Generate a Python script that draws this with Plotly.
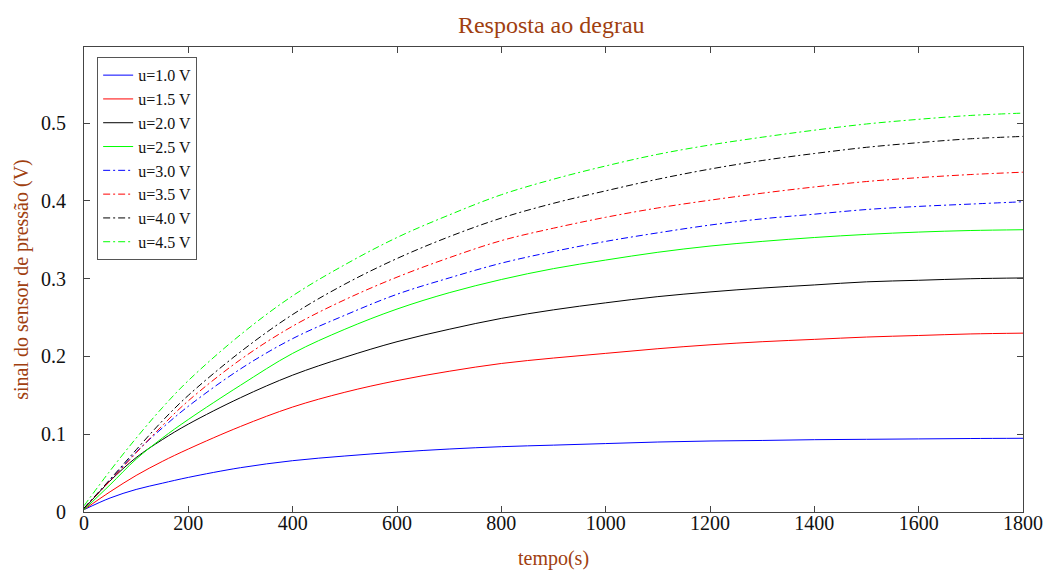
import plotly.graph_objects as go

t = [0, 50, 100, 150, 200, 300, 400, 500, 600, 700, 800, 900, 1000, 1100, 1200, 1300, 1400, 1500, 1600, 1700, 1800]

u10 = [0.003, 0.018, 0.029, 0.037, 0.0445, 0.057, 0.066, 0.072, 0.077, 0.081, 0.084, 0.086, 0.088, 0.090, 0.0913, 0.092, 0.093, 0.0935, 0.094, 0.0945, 0.0948]
u15 = [0.003, 0.026, 0.047, 0.065, 0.081, 0.110, 0.135, 0.154, 0.169, 0.181, 0.191, 0.198, 0.204, 0.210, 0.215, 0.219, 0.222, 0.225, 0.227, 0.229, 0.230]
u20 = [0.004, 0.040, 0.070, 0.093, 0.113, 0.147, 0.176, 0.199, 0.219, 0.235, 0.249, 0.260, 0.269, 0.277, 0.283, 0.288, 0.292, 0.296, 0.298, 0.300, 0.301]
u25 = [0.003, 0.035, 0.068, 0.095, 0.119, 0.163, 0.204, 0.235, 0.261, 0.282, 0.299, 0.313, 0.324, 0.334, 0.342, 0.348, 0.353, 0.357, 0.360, 0.362, 0.363]
u30 = [0.005, 0.041, 0.077, 0.108, 0.136, 0.184, 0.223, 0.253, 0.280, 0.301, 0.320, 0.335, 0.348, 0.359, 0.369, 0.377, 0.383, 0.389, 0.393, 0.396, 0.399]
u35 = [0.005, 0.040, 0.076, 0.111, 0.143, 0.196, 0.239, 0.273, 0.302, 0.327, 0.349, 0.365, 0.379, 0.391, 0.401, 0.410, 0.418, 0.425, 0.430, 0.434, 0.437]
u40 = [0.005, 0.042, 0.080, 0.117, 0.150, 0.206, 0.254, 0.293, 0.326, 0.354, 0.378, 0.397, 0.413, 0.428, 0.441, 0.452, 0.461, 0.469, 0.475, 0.480, 0.483]
u45 = [0.008, 0.053, 0.095, 0.134, 0.169, 0.228, 0.278, 0.318, 0.353, 0.382, 0.408, 0.428, 0.445, 0.460, 0.472, 0.482, 0.491, 0.499, 0.505, 0.510, 0.513]

names = ["u=1.0 V", "u=1.5 V", "u=2.0 V", "u=2.5 V", "u=3.0 V", "u=3.5 V", "u=4.0 V", "u=4.5 V"]
series = [u10, u15, u20, u25, u30, u35, u40, u45]
colors = ["#0000FF", "#FF0000", "#000000", "#00FF00", "#0000FF", "#FF0000", "#000000", "#00FF00"]
dashes = ["solid"] * 4 + ["7px,3px,2px,3px"] * 4

x_ticks = [0, 200, 400, 600, 800, 1000, 1200, 1400, 1600, 1800]
y_ticks = [0, 0.1, 0.2, 0.3, 0.4, 0.5]
y_tick_text = ["0", "0.1", "0.2", "0.3", "0.4", "0.5"]

FONT = "Liberation Serif, Times New Roman, DejaVu Serif, serif"
BROWN = "#A0400F"

fig = go.Figure()
for n, s, c, d in zip(names, series, colors, dashes):
    fig.add_trace(go.Scatter(x=t, y=s, name=n, mode="lines",
                             line=dict(color=c, width=1, dash=d, shape="spline", smoothing=1.0)))

axis_common = dict(showgrid=False, zeroline=False, showline=True, linecolor="#444444", linewidth=1,
                   mirror="ticks", ticks="inside", ticklen=6, tickcolor="#444444", automargin=False,
                   tickfont=dict(family=FONT, size=20, color="#111111"))

fig.update_layout(
    width=1048, height=570,
    margin=dict(l=84, r=25, t=47, b=58),
    paper_bgcolor="white", plot_bgcolor="white",
    font=dict(family=FONT),
    title=dict(text="Resposta ao degrau", x=0.526, xanchor="center", y=0.957, yanchor="middle",
               font=dict(family=FONT, size=24, color=BROWN)),
    xaxis=dict(range=[0, 1800], tickvals=x_ticks, ticklabelstandoff=-7,
               title=dict(text="tempo(s)", font=dict(family=FONT, size=20, color=BROWN), standoff=20),
               **axis_common),
    yaxis=dict(range=[0, 0.598], tickvals=y_ticks, ticktext=y_tick_text, ticklabelstandoff=13,
               title=dict(text="sinal do sensor de pressão (V)", font=dict(family=FONT, size=20, color=BROWN), standoff=7),
               **axis_common),
    legend=dict(x=0.014, y=0.978, xanchor="left", yanchor="top", bgcolor="white",
                bordercolor="#555555", borderwidth=1, font=dict(family=FONT, size=16, color="#111111"),
                itemwidth=30, tracegroupgap=0),
    showlegend=True,
)

fig.write_html("out.html")
